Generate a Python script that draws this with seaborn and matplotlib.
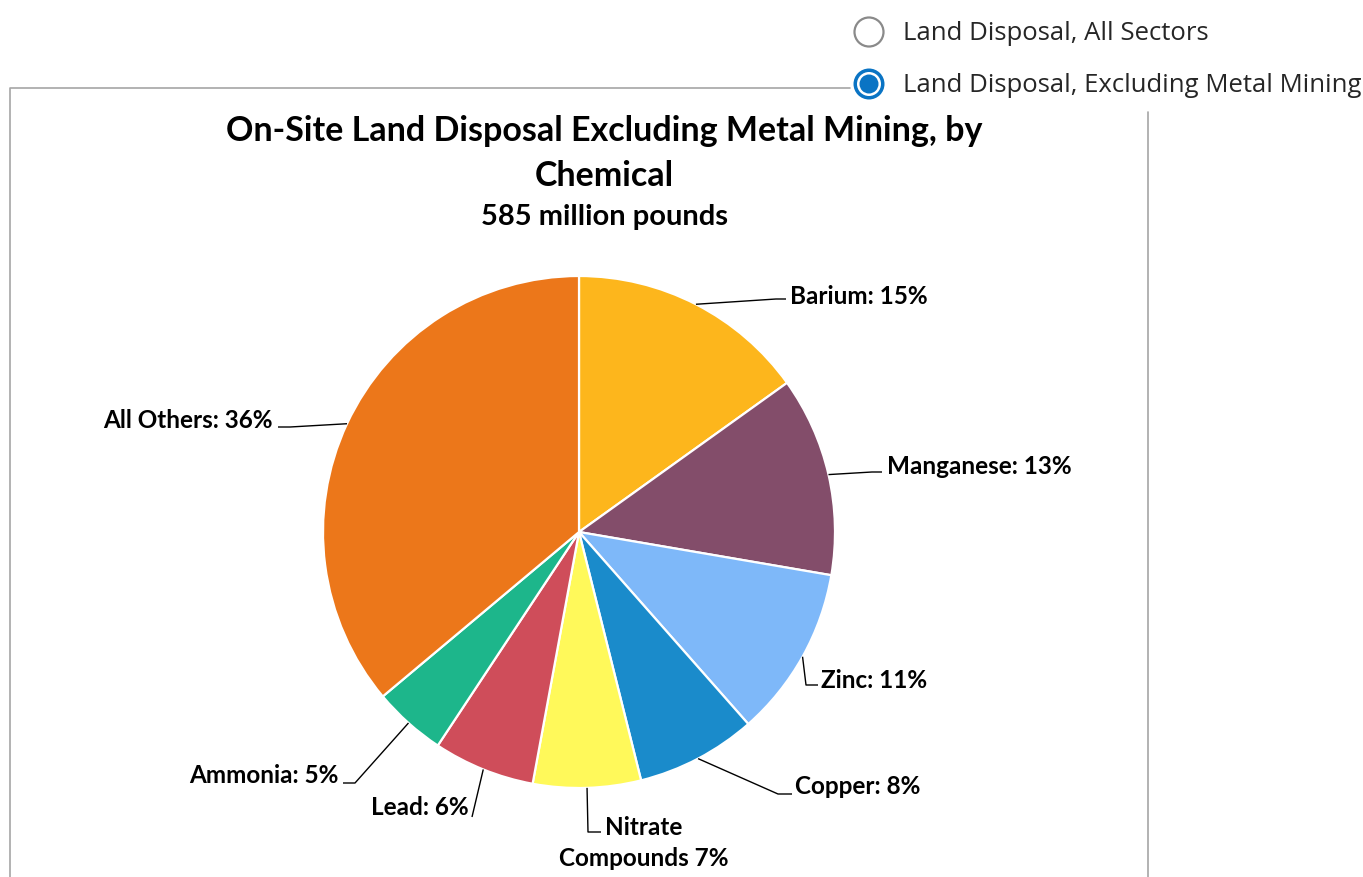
import numpy as np
import matplotlib
matplotlib.use("Agg")
import matplotlib.pyplot as plt
import seaborn as sns
from matplotlib.patches import Circle

sns.set_theme(style="white")
plt.rcParams["font.family"] = ["Lato", "DejaVu Sans"]

# Share of on-site land disposal (percent), excluding metal mining
chemicals = ["Barium", "Manganese", "Zinc", "Copper", "Nitrate\nCompounds",
             "Lead", "Ammonia", "All Others"]
shares = [15.1, 12.6, 10.8, 7.6, 6.8, 6.4, 4.6, 36.1]
colors = ["#FDB61C", "#834D6A", "#7EB8F9", "#1A8BCB", "#FFF95A",
          "#CF4D5A", "#1DB68B", "#EC771A"]
total_label = "585 million pounds"
title_lines = ["On-Site Land Disposal Excluding Metal Mining, by", "Chemical"]
options = ["Land Disposal, All Sectors", "Land Disposal, Excluding Metal Mining"]
selected = 1

W, H = 1363, 878
fig = plt.figure(figsize=(W / 100, H / 100), dpi=100)
ax = fig.add_axes([0, 0, 1, 1])


def Y(y):
    # pixel row measured from the top -> data y
    return H - y


palette = sns.color_palette(colors)
cx, cy, R = 579, Y(533), 256
wedges, _ = ax.pie(shares, colors=palette, startangle=90, counterclock=False,
                   center=(cx, cy), radius=R,
                   wedgeprops=dict(edgecolor="white", linewidth=1.6))
ax.set_xlim(0, W)
ax.set_ylim(0, H)
ax.set_aspect("equal")
ax.axis("off")

# leader elbow, leader end, label anchor, alignment
leaders = [
    ((776, 300), (786, 300), (790, 297), "left"),
    ((872, 473), (882, 473), (887, 466), "left"),
    ((806, 686), (818, 686), (821, 680), "left"),
    ((778, 795), (792, 795), (795, 787), "left"),
    ((588, 833), (601, 833), (644, 843), "center"),
    ((472, 818), (472, 818), (469, 808), "right"),
    ((355, 784), (343, 784), (339, 776), "right"),
    ((290, 428), (278, 428), (273, 420), "right"),
]

for w, name, val, (elb, end, txt, ha) in zip(wedges, chemicals, shares, leaders):
    mid = np.deg2rad((w.theta1 + w.theta2) / 2)
    px, py = cx + R * np.cos(mid), cy + R * np.sin(mid)
    ax.plot([px, elb[0], end[0]], [py, Y(elb[1]), Y(end[1])],
            color="black", lw=1.0, solid_capstyle="butt")
    sep = " " if "\n" in name else ": "
    ax.text(txt[0], Y(txt[1]), f"{name}{sep}{val:.0f}%", ha=ha, va="center",
            fontsize=17.5, fontweight="bold", color="black",
            linespacing=1.4, multialignment="center")

# chart title
for line, y in zip(title_lines, [131, 176]):
    ax.text(604, Y(y), line, ha="center", va="center", fontsize=24.5,
            fontweight="bold", color="black")
ax.text(605, Y(217), total_label, ha="center", va="center", fontsize=21,
        fontweight="bold", color="black")

# chart frame
frame_col = "#A6A6A6"
ax.plot([10, 10, 850], [Y(H), Y(89), Y(89)], color=frame_col, lw=1.2)
ax.plot([1148, 1148], [Y(113), Y(H)], color=frame_col, lw=1.2)

# option selector
for i, label in enumerate(options):
    y = Y(33 + 52 * i)
    if i == selected:
        ax.add_patch(Circle((869, y), 15.5, facecolor="#0A74C4", edgecolor="none"))
        ax.add_patch(Circle((869, y), 12, facecolor="white", edgecolor="none"))
        ax.add_patch(Circle((869, y), 9.5, facecolor="#0A74C4", edgecolor="none"))
    else:
        ax.add_patch(Circle((869, y), 14.5, facecolor="white",
                            edgecolor="#8A8A8A", lw=1.6))
    ax.text(903, y, label, ha="left", va="center", fontsize=18.5,
            family=["Open Sans", "DejaVu Sans"], color="#262626")

fig.savefig("out.png", dpi=100)
